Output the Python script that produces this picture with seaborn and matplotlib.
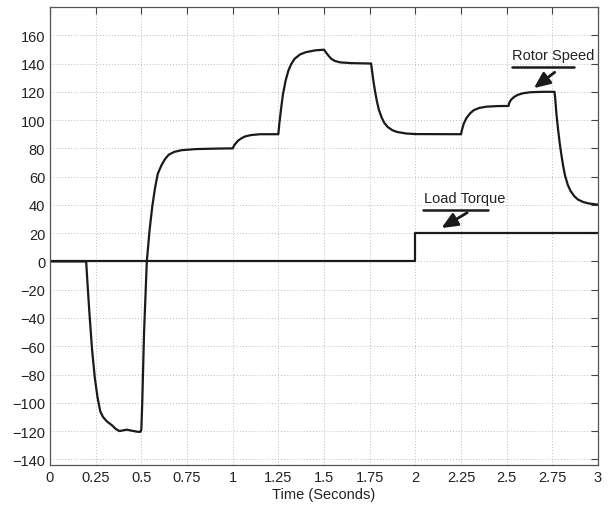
import matplotlib
matplotlib.use("Agg")
import matplotlib.pyplot as plt
import seaborn as sns
import pandas as pd

# ---- data ----
speed_t = [0, 0.198, 0.205, 0.215, 0.23, 0.245, 0.26, 0.275, 0.29, 0.31, 0.34, 0.36, 0.38,
           0.40, 0.42, 0.45, 0.48, 0.495, 0.50,
           0.505, 0.515, 0.53, 0.545, 0.56, 0.575, 0.59, 0.61, 0.63, 0.65, 0.68, 0.72, 0.8, 0.9,
           1.0, 1.01, 1.03, 1.05, 1.07, 1.1, 1.15, 1.25,
           1.255, 1.265, 1.275, 1.29, 1.305, 1.32, 1.34, 1.37, 1.40, 1.45, 1.50,
           1.51, 1.525, 1.54, 1.56, 1.59, 1.65, 1.758,
           1.762, 1.77, 1.78, 1.79, 1.80, 1.815, 1.83, 1.85, 1.875, 1.9, 1.95, 2.0, 2.25,
           2.255, 2.265, 2.28, 2.30, 2.32, 2.35, 2.39, 2.45, 2.51,
           2.515, 2.525, 2.54, 2.56, 2.59, 2.63, 2.7, 2.762,
           2.766, 2.772, 2.78, 2.79, 2.80, 2.81, 2.82, 2.835, 2.85, 2.87, 2.89, 2.92, 2.95, 3.0]
speed_v = [0, 0, -15, -35, -62, -82, -96, -106, -110, -113, -116, -118.5, -120,
           -119.5, -119, -119.8, -120.5, -120.5, -119,
           -100, -50, 0, 22, 39, 52, 62, 68, 72.5, 75.5, 77.5, 78.7, 79.5, 79.8,
           80, 82.5, 85.5, 87.3, 88.5, 89.4, 90, 90,
           97, 108, 118, 128, 135, 139.5, 143.5, 146.5, 148, 149.3, 149.8,
           148, 145.5, 143.3, 141.8, 140.8, 140.3, 140,
           136, 128, 120, 113, 107.5, 102, 98, 95, 92.8, 91.6, 90.5, 90.1, 90,
           93, 97.5, 101.5, 104.8, 107, 108.6, 109.5, 109.9, 110,
           112.5, 114.5, 116.3, 117.8, 119, 119.7, 120, 120,
           115, 105, 95, 84, 75, 67, 60.5, 54, 49.8, 46.2, 43.8, 42, 41, 40.2]
torque_t = [0, 2.0, 2.0, 3.0]
torque_v = [0, 0, 20, 20]

x_ticks = [0, 0.25, 0.5, 0.75, 1, 1.25, 1.5, 1.75, 2, 2.25, 2.5, 2.75, 3]
x_labels = ["0", "0.25", "0.5", "0.75", "1", "1.25", "1.5", "1.75", "2", "2.25", "2.5", "2.75", "3"]
y_ticks = list(range(-140, 161, 20))

sns.set_theme(style="white")
plt.rcParams['font.family'] = ['Liberation Sans', 'DejaVu Sans']

fig = plt.figure(figsize=(6.08, 5.06), dpi=100)
ax = fig.add_axes([50/608, 1-466/506, 548/608, 458/506])

df_s = pd.DataFrame({"t": speed_t, "v": speed_v})
df_q = pd.DataFrame({"t": torque_t, "v": torque_v})
sns.lineplot(data=df_s, x="t", y="v", sort=False, estimator=None, ax=ax, color="#1a1a1a", lw=1.6)
sns.lineplot(data=df_q, x="t", y="v", sort=False, estimator=None, ax=ax, color="#1a1a1a", lw=1.6)

ax.set_xlim(0, 3)
ax.set_ylim(-144, 180)
ax.set_xticks(x_ticks)
ax.set_xticklabels(x_labels)
ax.set_yticks(y_ticks)
ax.grid(True, linestyle=(0, (1, 2)), color="#bdbdbd", lw=0.7)
ax.tick_params(axis="both", direction="in", length=5, width=0.8, colors="#444444",
               labelsize=10.5, labelcolor="#222222", top=True, right=True)
for s in ax.spines.values():
    s.set_color("#555555")
    s.set_linewidth(0.9)
ax.set_xlabel("Time (Seconds)", fontsize=10.5, color="#222222", labelpad=2)
ax.set_ylabel("")

# annotations
ax.text(2.53, 141, "Rotor Speed", fontsize=10.5, color="#222222", va="bottom", ha="left")
ax.plot([2.53, 2.87], [137.4, 137.4], color="#1a1a1a", lw=1.8)
ax.annotate("", xy=(2.637, 121.4), xytext=(2.775, 135),
            arrowprops=dict(arrowstyle="-|>,head_length=0.8,head_width=0.35", color="#1a1a1a", lw=2))
ax.text(2.045, 40, "Load Torque", fontsize=10.5, color="#222222", va="bottom", ha="left")
ax.plot([2.04, 2.40], [36.7, 36.7], color="#1a1a1a", lw=1.8)
ax.annotate("", xy=(2.13, 22.6), xytext=(2.297, 35.5),
            arrowprops=dict(arrowstyle="-|>,head_length=0.8,head_width=0.35", color="#1a1a1a", lw=2))

fig.savefig("out.png", dpi=100)
